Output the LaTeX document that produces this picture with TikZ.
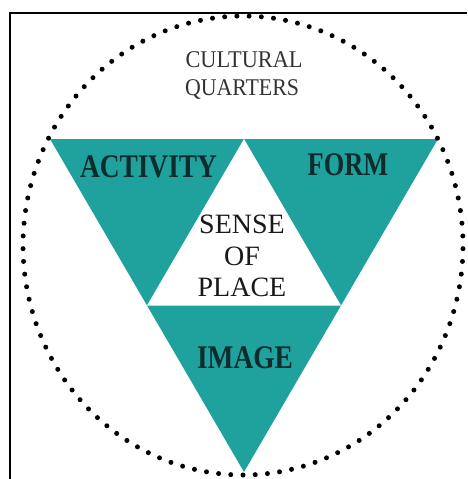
\documentclass[tikz,border=0pt]{standalone}
\usepackage{fontspec}
\setmainfont{Liberation Serif}
\definecolor{teal1}{HTML}{1FA19D}
\definecolor{labeldark}{HTML}{0E2C2D}
\definecolor{textgray}{HTML}{333333}
\begin{document}
\begin{tikzpicture}[x=1pt,y=-1pt,
  bigtxt/.style={anchor=base,inner sep=0pt,text=labeldark,font=\fontsize{33}{38}\bfseries\selectfont},
  toptxt/.style={anchor=base,inner sep=0pt,text=textgray,font=\fontsize{24}{28}\selectfont},
  midtxt/.style={anchor=base,inner sep=0pt,text=black!90,font=\fontsize{28}{32}\selectfont},
  framel/.style={line width=2.4pt,black}]
\useasboundingbox (0,0) rectangle (467,479);
% frame
\draw[framel] (10,479) -- (10,13) -- (467,13);
% big inverted triangle and inner white triangle
\fill[teal1] (50,139) -- (438,139) -- (244,472) -- cycle;
\fill[white] (244,139) -- (341,305.5) -- (147,305.5) -- cycle;
% dotted ellipse
\foreach \i in {0,...,112}{
  \pgfmathsetmacro{\ang}{\i*3.1858407+90}
  \fill[black] ({243+220*cos(\ang)},{245.5+229.5*sin(\ang)}) circle (2.5pt);
}
% texts
\node[toptxt] (cult) at (244,67) {\scalebox{0.93}[1]{CULTURAL}};
\node[toptxt] (quart) at (242,95) {\scalebox{0.91}[1]{QUARTERS}};
\node[bigtxt] (act) at (148.5,177) {\scalebox{0.83}[1]{ACTIVITY}};
\node[bigtxt] (form) at (348,175) {\scalebox{0.8}[1]{FORM}};
\node[midtxt] (sense) at (242,233) {SENSE};
\node[midtxt] (of) at (242,265) {OF};
\node[midtxt] (place) at (242,296) {PLACE};
\node[bigtxt] (image) at (245,368) {\scalebox{0.83}[1]{IMAGE}};
\end{tikzpicture}
\end{document}
